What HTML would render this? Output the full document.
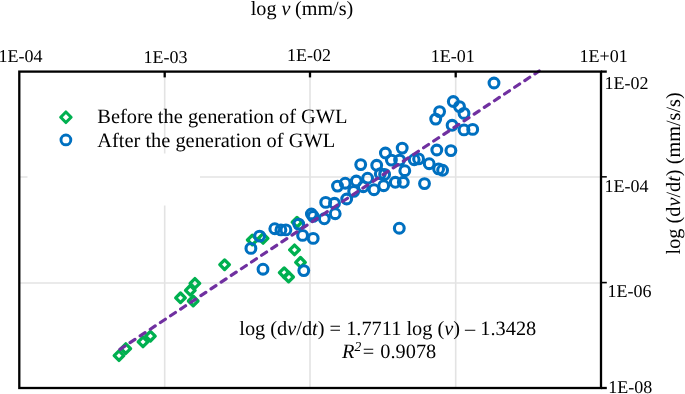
<!DOCTYPE html>
<html><head><meta charset="utf-8"><title>chart</title>
<style>
html,body{margin:0;padding:0;background:#fff;}
body{width:685px;height:394px;overflow:hidden;}
svg{display:block;text-rendering:geometricPrecision;font-family:"Liberation Serif",serif;fill:#000;}
.i{font-style:italic}
</style></head><body>
<svg width="685" height="394" viewBox="0 0 685 394">
<rect width="685" height="394" fill="#fff"/>
<g stroke="#e3e3e3" stroke-width="1.6" fill="none">
<line x1="164.7" y1="71.6" x2="164.7" y2="388.0"/>
<line x1="310.0" y1="71.6" x2="310.0" y2="388.0"/>
<line x1="455.7" y1="71.6" x2="455.7" y2="388.0"/>
<line x1="19.3" y1="177.05" x2="601.0" y2="177.05"/>
<line x1="19.3" y1="282.95" x2="601.0" y2="282.95"/>
</g>
<rect x="27.5" y="153.5" width="172.5" height="52" fill="#fff"/>
<g fill="none" stroke="#00b050" stroke-width="3.3" stroke-linejoin="round">
<path d="M119.0 350.8L123.8 355.6L119.0 360.4L114.2 355.6Z"/>
<path d="M125.8 343.8L130.6 348.6L125.8 353.4L121.0 348.6Z"/>
<path d="M143.0 337.1L147.8 341.9L143.0 346.7L138.2 341.9Z"/>
<path d="M150.4 331.4L155.2 336.2L150.4 341.0L145.6 336.2Z"/>
<path d="M180.5 293.0L185.3 297.8L180.5 302.6L175.7 297.8Z"/>
<path d="M190.3 285.5L195.1 290.3L190.3 295.1L185.5 290.3Z"/>
<path d="M194.9 278.6L199.7 283.4L194.9 288.2L190.1 283.4Z"/>
<path d="M193.2 296.2L198.0 301.0L193.2 305.8L188.4 301.0Z"/>
<path d="M224.6 259.9L229.4 264.7L224.6 269.5L219.8 264.7Z"/>
<path d="M252.3 235.2L257.1 240.0L252.3 244.8L247.5 240.0Z"/>
<path d="M263.1 233.6L267.9 238.4L263.1 243.2L258.3 238.4Z"/>
<path d="M297.0 217.4L301.8 222.2L297.0 227.0L292.2 222.2Z"/>
<path d="M294.5 245.1L299.3 249.9L294.5 254.7L289.7 249.9Z"/>
<path d="M300.5 257.5L305.3 262.3L300.5 267.1L295.7 262.3Z"/>
<path d="M284.2 267.9L289.0 272.7L284.2 277.5L279.4 272.7Z"/>
<path d="M288.6 272.2L293.4 277.0L288.6 281.8L283.8 277.0Z"/>
</g>
<g fill="none" stroke="#0070c0" stroke-width="3.1">
<circle cx="250.9" cy="248.4" r="4.9"/>
<circle cx="259.6" cy="236.1" r="4.9"/>
<circle cx="274.8" cy="228.7" r="4.9"/>
<circle cx="280.9" cy="229.9" r="4.9"/>
<circle cx="285.9" cy="229.9" r="4.9"/>
<circle cx="298.7" cy="224.1" r="4.9"/>
<circle cx="302.6" cy="235.4" r="4.9"/>
<circle cx="313.2" cy="238.4" r="4.9"/>
<circle cx="263.0" cy="269.2" r="4.9"/>
<circle cx="303.8" cy="270.6" r="4.9"/>
<circle cx="311.4" cy="214.0" r="4.9"/>
<circle cx="313.2" cy="216.4" r="4.9"/>
<circle cx="324.3" cy="218.8" r="4.9"/>
<circle cx="335.2" cy="213.7" r="4.9"/>
<circle cx="325.7" cy="202.4" r="4.9"/>
<circle cx="334.5" cy="203.3" r="4.9"/>
<circle cx="346.7" cy="199.0" r="4.9"/>
<circle cx="337.5" cy="186.1" r="4.9"/>
<circle cx="345.2" cy="183.2" r="4.9"/>
<circle cx="356.3" cy="181.0" r="4.9"/>
<circle cx="353.7" cy="191.4" r="4.9"/>
<circle cx="363.3" cy="186.7" r="4.9"/>
<circle cx="367.6" cy="178.2" r="4.9"/>
<circle cx="374.0" cy="189.7" r="4.9"/>
<circle cx="383.7" cy="185.7" r="4.9"/>
<circle cx="360.7" cy="164.6" r="4.9"/>
<circle cx="376.7" cy="165.3" r="4.9"/>
<circle cx="380.3" cy="173.8" r="4.9"/>
<circle cx="384.6" cy="174.4" r="4.9"/>
<circle cx="395.3" cy="182.3" r="4.9"/>
<circle cx="403.3" cy="182.3" r="4.9"/>
<circle cx="399.3" cy="228.2" r="4.9"/>
<circle cx="385.4" cy="153.0" r="4.9"/>
<circle cx="391.4" cy="160.1" r="4.9"/>
<circle cx="399.6" cy="160.1" r="4.9"/>
<circle cx="402.2" cy="148.1" r="4.9"/>
<circle cx="404.8" cy="170.7" r="4.9"/>
<circle cx="414.2" cy="159.7" r="4.9"/>
<circle cx="418.6" cy="158.9" r="4.9"/>
<circle cx="429.2" cy="163.7" r="4.9"/>
<circle cx="424.5" cy="183.6" r="4.9"/>
<circle cx="436.8" cy="150.0" r="4.9"/>
<circle cx="450.9" cy="150.6" r="4.9"/>
<circle cx="438.6" cy="168.9" r="4.9"/>
<circle cx="442.6" cy="170.2" r="4.9"/>
<circle cx="494.0" cy="83.0" r="4.9"/>
<circle cx="453.3" cy="101.5" r="4.9"/>
<circle cx="459.5" cy="106.6" r="4.9"/>
<circle cx="464.0" cy="113.4" r="4.9"/>
<circle cx="439.6" cy="111.6" r="4.9"/>
<circle cx="435.7" cy="119.1" r="4.9"/>
<circle cx="452.1" cy="125.3" r="4.9"/>
<circle cx="464.0" cy="129.9" r="4.9"/>
<circle cx="472.7" cy="129.4" r="4.9"/>
</g>
<line x1="119.6" y1="349.6" x2="539.2" y2="71" stroke="#7030a0" stroke-width="3.2" stroke-dasharray="5.9 6.25" stroke-dashoffset="-0.4" stroke-linecap="round" fill="none"/>
<path d="M65.9 112.0L71.1 117.25L65.9 122.5L60.7 117.25Z" fill="none" stroke="#00b050" stroke-width="3.1" stroke-linejoin="round"/>
<circle cx="65.9" cy="139.9" r="4.9" fill="none" stroke="#0070c0" stroke-width="2.9"/>
<g stroke="#000" stroke-width="2.3" fill="none"><rect x="19.3" y="71.6" width="581.7" height="316.4"/>
<line x1="164.7" y1="71.6" x2="164.7" y2="77.39999999999999"/>
<line x1="310.0" y1="71.6" x2="310.0" y2="77.39999999999999"/>
<line x1="455.7" y1="71.6" x2="455.7" y2="77.39999999999999"/>
<line x1="601.0" y1="71.6" x2="606.8" y2="71.6"/>
<line x1="601.0" y1="388.0" x2="606.8" y2="388.0"/>
<line x1="601.0" y1="176.85" x2="606.8" y2="176.85" stroke-width="1.5"/>
<line x1="601.0" y1="282.6" x2="606.8" y2="282.6" stroke-width="1.6"/>
</g>
<g font-size="20.2px">
<text x="250.7" y="14.7">log <tspan class="i">v</tspan><tspan dx="-0.6"> (mm/s)</tspan></text>
<text x="97.3" y="123.4" font-size="20.4px">Before the generation of GWL</text>
<text x="97.3" y="146.7" font-size="20.4px">After the generation of GWL</text>
<text x="387.75" y="334.9" text-anchor="middle" font-size="20.33px">log (d<tspan class="i">v</tspan>/d<tspan class="i">t</tspan>) = 1.7711 log (<tspan class="i">v</tspan>) – 1.3428</text>
<text x="342.1" y="358.4" font-size="20.33px"><tspan class="i">R</tspan><tspan class="i" font-size="13.5px" dy="-7.6">2</tspan><tspan dy="7.6" dx="1.6">=</tspan><tspan dx="0.9"> 0.9078</tspan></text>
<text transform="translate(680.1 254.4) rotate(-90)" font-size="20.28px">log (d<tspan class="i">v</tspan>/d<tspan class="i">t</tspan>) (mm/s/s)</text>
</g>
<g font-size="18px">
<text x="-1.6" y="61.8">1E-04</text>
<text x="143.4" y="62.9">1E-03</text>
<text x="286.9" y="61.3">1E-02</text>
<text x="430.7" y="61.8">1E-01</text>
<text x="579.6" y="61.8">1E+01</text>
<text x="604.4" y="89.0">1E-02</text>
<text x="604.4" y="192.1">1E-04</text>
<text x="607.6" y="296.9">1E-06</text>
<text x="608.3" y="392.7">1E-08</text>
</g>
</svg></body></html>
